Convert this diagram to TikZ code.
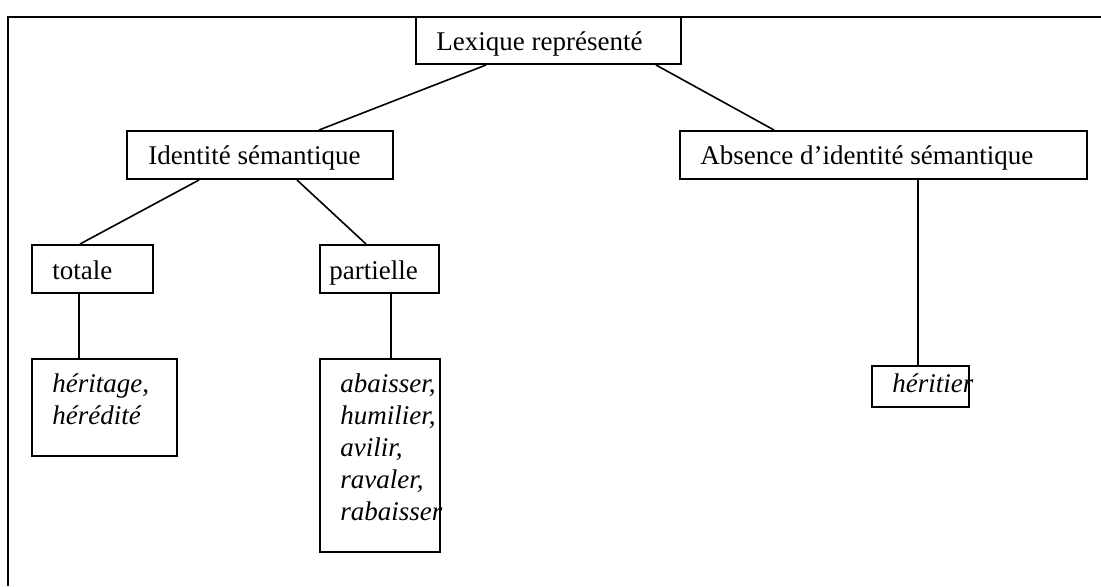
\documentclass[tikz,border=0pt]{standalone}
\usepackage{fontspec}
\setmainfont{Liberation Serif}
\usepackage{tikz}
\usetikzlibrary{calc, fit, positioning}

\begin{document}
\begin{tikzpicture}[x=0.5pt, y=-0.5pt,
    box/.style={draw, line width=1pt, inner sep=0pt},
    lbl/.style={anchor=base west, inner sep=0pt, align=left, font=\fontsize{13.5}{16}\selectfont},
    link/.style={line width=0.8pt}]
    \useasboundingbox (0,0) rectangle (1101,586);
    % frame
    \draw[line width=1pt] (1101,17) -- (8,17) -- (8,586);

    % boxes
    \node[box, fit={(416,17) (681,64)}] (lex) {};
    \node[box, fit={(127,131) (393,179)}] (ident) {};
    \node[box, fit={(680,131) (1087,179)}] (absent) {};
    \node[box, fit={(32,245) (153,293)}] (tot) {};
    \node[box, fit={(320,245) (439,293)}] (part) {};
    \node[box, fit={(32,359) (177,456)}] (herit) {};
    \node[box, fit={(320,359) (440,552)}] (abais) {};
    \node[box, fit={(872,366) (969,407)}] (hrt) {};

    % texts (base = last line)
    \node[lbl] (lexT) at ($(lex.north west)+(21,34)$) {Lexique représenté};
    \node[lbl] (identT) at ($(ident.north west)+(22,34)$) {Identité sémantique};
    \node[lbl] (absentT) at ($(absent.north west)+(21,34)$) {Absence d’identité sémantique};
    \node[lbl] (totT) at ($(tot.north west)+(21,35)$) {totale};
    \node[lbl] (partT) at ($(part.north west)+(10,35)$) {partielle};
    \node[lbl] (heritT) at ($(herit.north west)+(21,66)$) {\itshape héritage,\\\itshape hérédité};
    \node[lbl] (abaisT) at ($(abais.north west)+(21,162)$) {\itshape abaisser,\\\itshape humilier,\\\itshape avilir,\\\itshape ravaler,\\\itshape rabaisser};
    \node[lbl] (hrtT) at ($(hrt.north west)+(21,27)$) {\itshape héritier};

    % links
    \draw[link] ($(lex.south west)+(71,0)$) -- ($(ident.north west)+(193,0)$);
    \draw[link] ($(lex.south west)+(241,0)$) -- ($(absent.north west)+(95,0)$);
    \draw[link] ($(ident.south west)+(73,0)$) -- ($(tot.north west)+(49,0)$);
    \draw[link] ($(ident.south west)+(171,0)$) -- ($(part.north west)+(47,0)$);
    \draw[link] ($(tot.south west)+(48,0)$) -- ($(herit.north west)+(48,0)$);
    \draw[link] ($(part.south west)+(72,0)$) -- ($(abais.north west)+(72,0)$);
    \draw[link] ($(absent.south west)+(239,0)$) -- ($(hrt.north west)+(47,0)$);
\end{tikzpicture}
\end{document}
